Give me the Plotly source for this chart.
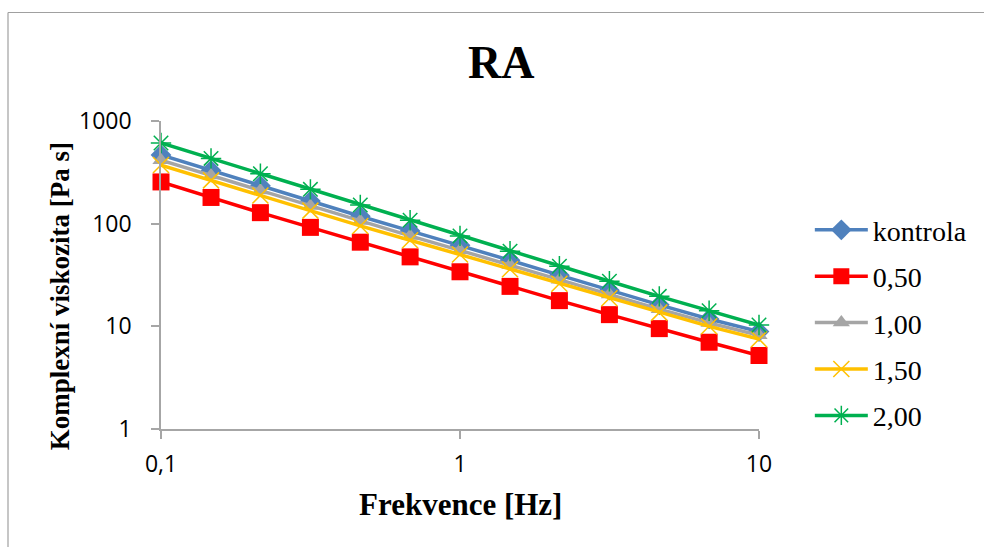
import plotly.graph_objects as go

# Frequency sweep (Hz)
frekvence = [0.1, 0.147, 0.215, 0.316, 0.464, 0.681, 1.0, 1.47, 2.15, 3.16, 4.64, 6.81, 10.0]

# Complex viscosity (Pa s) per sample
kontrola = [467, 330, 234, 166, 118, 85, 61.5, 44, 31.5, 22.5, 16.2, 11.8, 8.9]
c050 = [255, 180, 128, 92, 66, 47.5, 34, 24.5, 17.8, 13, 9.5, 7.0, 5.2]
c100 = [415, 295, 210, 149, 106, 76, 55, 39.5, 28.5, 20.4, 14.7, 10.8, 8.2]
c150 = [372, 264, 188, 134, 95, 69, 50, 36, 26, 18.8, 13.6, 10.0, 7.5]
c200 = [611, 432, 306, 216, 152, 108, 76, 54, 38.5, 27.5, 19.6, 14.2, 10.3]

series_names = ["kontrola", "0,50", "1,00", "1,50", "2,00"]

x_tickvals = [0.1, 1, 10]
x_ticktext = ["0,1", "1", "10"]
y_tickvals = [1, 10, 100, 1000]
y_ticktext = ["1", "10", "100", "1000"]

styles = [
    dict(color="#4F81BD", symbol="diamond", size=16, lw=0),
    dict(color="#FF0000", symbol="square", size=17, lw=0),
    dict(color="#A5A5A5", symbol="triangle-up", size=15, lw=0),
    dict(color="#FFC000", symbol="x-thin-open", size=16, lw=1.5),
    dict(color="#00B050", symbol="asterisk-open", size=17, lw=1.5),
]

fig = go.Figure()
for i, (name, vals) in enumerate(zip(series_names, [kontrola, c050, c100, c150, c200])):
    s = styles[i]
    fig.add_trace(go.Scatter(
        x=frekvence, y=vals, name=name, mode="lines+markers",
        legendgroup=f"g{i}", cliponaxis=False,
        line=dict(color=s["color"], width=3.5),
        marker=dict(symbol=s["symbol"], size=s["size"], color=s["color"],
                    line=dict(width=s["lw"], color=s["color"])),
    ))

axis_color = "#A6A6A6"
serif = "Liberation Serif, Times New Roman, serif"
sans = "Open Sans, sans-serif"

# chart-area frame: its top and left edges, running out to the page edges
W, H = 984, 547
L, R, T, B = 161, 225, 121, 118
pw, ph = W - L - R, H - T - B
frame_left = (8 - L) / pw
frame_top = (H - B - 12.5) / ph
page_right = (W - L) / pw
page_bottom = -B / ph
frame_line = dict(color="#A0A0A0", width=1.2)

fig.update_layout(
    width=W, height=H,
    margin=dict(l=L, r=R, t=T, b=B),
    paper_bgcolor="white", plot_bgcolor="white",
    showlegend=True,
    title=dict(text="<b>RA</b>", font=dict(family=serif, size=46, color="black"),
               x=0.569, xref="paper", xanchor="center",
               y=1 - 62 / H, yref="container", yanchor="middle"),
    legend=dict(x=1.085, y=0.727, xanchor="left", yanchor="top",
                font=dict(family=serif, size=28, color="black"),
                tracegroupgap=7, itemwidth=53, bgcolor="rgba(0,0,0,0)"),
    xaxis=dict(type="log", range=[-1, 1], tickvals=x_tickvals, ticktext=x_ticktext,
               showgrid=False, zeroline=False, showline=True, linecolor=axis_color,
               linewidth=1.5, ticks="outside", ticklen=8, tickcolor=axis_color,
               tickwidth=1.5, ticklabelstandoff=6,
               tickfont=dict(family=sans, size=23, color="black")),
    yaxis=dict(type="log", range=[0, 3], tickvals=y_tickvals, ticktext=y_ticktext,
               showgrid=False, zeroline=False, showline=True, linecolor=axis_color,
               linewidth=1.5, ticks="outside", ticklen=8, tickcolor=axis_color,
               tickwidth=1.5, ticklabelstandoff=15,
               tickfont=dict(family=sans, size=23, color="black")),
    annotations=[
        dict(text="<b>Frekvence [Hz]</b>", xref="paper", yref="paper",
             x=0.5, y=-0.2465, xanchor="center", yanchor="middle", showarrow=False,
             font=dict(family=serif, size=31, color="black")),
        dict(text="<b>Komplexní viskozita [Pa s]</b>", xref="paper", yref="paper",
             x=-0.169, y=0.431, xanchor="center", yanchor="middle", showarrow=False,
             textangle=-90, font=dict(family=serif, size=27, color="black")),
    ],
    shapes=[
        dict(type="line", xref="paper", yref="paper",
             x0=frame_left, x1=page_right, y0=frame_top, y1=frame_top,
             line=frame_line, layer="below"),
        dict(type="line", xref="paper", yref="paper",
             x0=frame_left, x1=frame_left, y0=frame_top, y1=page_bottom,
             line=frame_line, layer="below"),
    ],
)

fig.write_html("out.html")
